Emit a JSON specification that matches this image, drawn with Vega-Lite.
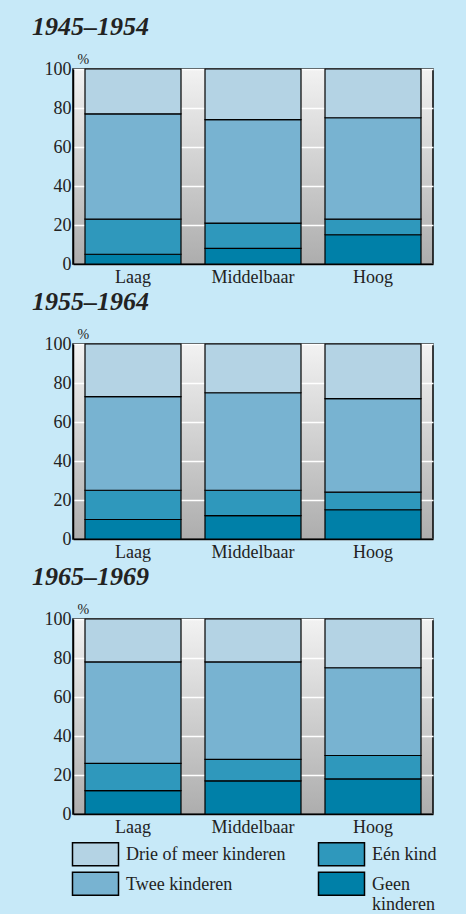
{
  "$schema": "https://vega.github.io/schema/vega-lite/v6.json",
  "background": "#c7e9f8",
  "padding": {"left": 31, "top": 13, "right": 31, "bottom": 4},
  "spacing": 1,
  "datasets": {
    "d": [
      {"periode": "1945–1954", "opleiding": "Laag", "type": "Geen kinderen", "k": 1, "pct": 5},
      {"periode": "1945–1954", "opleiding": "Laag", "type": "Eén kind", "k": 2, "pct": 18},
      {"periode": "1945–1954", "opleiding": "Laag", "type": "Twee kinderen", "k": 3, "pct": 54},
      {"periode": "1945–1954", "opleiding": "Laag", "type": "Drie of meer kinderen", "k": 4, "pct": 23},
      {"periode": "1945–1954", "opleiding": "Middelbaar", "type": "Geen kinderen", "k": 1, "pct": 8},
      {"periode": "1945–1954", "opleiding": "Middelbaar", "type": "Eén kind", "k": 2, "pct": 13},
      {"periode": "1945–1954", "opleiding": "Middelbaar", "type": "Twee kinderen", "k": 3, "pct": 53},
      {"periode": "1945–1954", "opleiding": "Middelbaar", "type": "Drie of meer kinderen", "k": 4, "pct": 26},
      {"periode": "1945–1954", "opleiding": "Hoog", "type": "Geen kinderen", "k": 1, "pct": 15},
      {"periode": "1945–1954", "opleiding": "Hoog", "type": "Eén kind", "k": 2, "pct": 8},
      {"periode": "1945–1954", "opleiding": "Hoog", "type": "Twee kinderen", "k": 3, "pct": 52},
      {"periode": "1945–1954", "opleiding": "Hoog", "type": "Drie of meer kinderen", "k": 4, "pct": 25},
      {"periode": "1955–1964", "opleiding": "Laag", "type": "Geen kinderen", "k": 1, "pct": 10},
      {"periode": "1955–1964", "opleiding": "Laag", "type": "Eén kind", "k": 2, "pct": 15},
      {"periode": "1955–1964", "opleiding": "Laag", "type": "Twee kinderen", "k": 3, "pct": 48},
      {"periode": "1955–1964", "opleiding": "Laag", "type": "Drie of meer kinderen", "k": 4, "pct": 27},
      {"periode": "1955–1964", "opleiding": "Middelbaar", "type": "Geen kinderen", "k": 1, "pct": 12},
      {"periode": "1955–1964", "opleiding": "Middelbaar", "type": "Eén kind", "k": 2, "pct": 13},
      {"periode": "1955–1964", "opleiding": "Middelbaar", "type": "Twee kinderen", "k": 3, "pct": 50},
      {"periode": "1955–1964", "opleiding": "Middelbaar", "type": "Drie of meer kinderen", "k": 4, "pct": 25},
      {"periode": "1955–1964", "opleiding": "Hoog", "type": "Geen kinderen", "k": 1, "pct": 15},
      {"periode": "1955–1964", "opleiding": "Hoog", "type": "Eén kind", "k": 2, "pct": 9},
      {"periode": "1955–1964", "opleiding": "Hoog", "type": "Twee kinderen", "k": 3, "pct": 48},
      {"periode": "1955–1964", "opleiding": "Hoog", "type": "Drie of meer kinderen", "k": 4, "pct": 28},
      {"periode": "1965–1969", "opleiding": "Laag", "type": "Geen kinderen", "k": 1, "pct": 12},
      {"periode": "1965–1969", "opleiding": "Laag", "type": "Eén kind", "k": 2, "pct": 14},
      {"periode": "1965–1969", "opleiding": "Laag", "type": "Twee kinderen", "k": 3, "pct": 52},
      {"periode": "1965–1969", "opleiding": "Laag", "type": "Drie of meer kinderen", "k": 4, "pct": 22},
      {"periode": "1965–1969", "opleiding": "Middelbaar", "type": "Geen kinderen", "k": 1, "pct": 17},
      {"periode": "1965–1969", "opleiding": "Middelbaar", "type": "Eén kind", "k": 2, "pct": 11},
      {"periode": "1965–1969", "opleiding": "Middelbaar", "type": "Twee kinderen", "k": 3, "pct": 50},
      {"periode": "1965–1969", "opleiding": "Middelbaar", "type": "Drie of meer kinderen", "k": 4, "pct": 22},
      {"periode": "1965–1969", "opleiding": "Hoog", "type": "Geen kinderen", "k": 1, "pct": 18},
      {"periode": "1965–1969", "opleiding": "Hoog", "type": "Eén kind", "k": 2, "pct": 12},
      {"periode": "1965–1969", "opleiding": "Hoog", "type": "Twee kinderen", "k": 3, "pct": 45},
      {"periode": "1965–1969", "opleiding": "Hoog", "type": "Drie of meer kinderen", "k": 4, "pct": 25}
    ]
  },
  "config": {
    "font": "Liberation Serif",
    "view": {
      "stroke": "black",
      "strokeWidth": 1.5,
      "fill": {"gradient": "linear", "x1": 0, "y1": 0, "x2": 0, "y2": 1, "stops": [{"offset": 0, "color": "#f2f2f2"}, {"offset": 1, "color": "#adadad"}]}
    },
    "title": {
      "font": "Liberation Serif",
      "fontSize": 26,
      "fontStyle": "italic",
      "fontWeight": "bold",
      "color": "#222222",
      "anchor": "start",
      "frame": "group",
      "dx": -41,
      "offset": 12
    },
    "axis": {
      "labelFont": "Liberation Serif",
      "labelFontSize": 18,
      "labelColor": "#222222",
      "ticks": false,
      "domainColor": "black",
      "domainWidth": 1.5
    },
    "legend": {
      "orient": "none",
      "legendX": 10,
      "legendY": 778,
      "columns": 2,
      "columnPadding": 29,
      "rowPadding": 0,
      "symbolType": "M-2,-1.5H2V0.5H-2Z",
      "symbolSize": 529,
      "symbolStrokeColor": "black",
      "symbolStrokeWidth": 1.5,
      "symbolOpacity": 1,
      "labelFont": "Liberation Serif",
      "labelFontSize": 18,
      "labelColor": "#222222",
      "labelOffset": 18,
      "labelLimit": 300,
      "labelBaseline": "alphabetic"
    }
  },
  "resolve": {"scale": {"color": "shared"}},
  "vconcat": [
    {
      "title": "1945–1954",
      "width": 360,
      "height": 195,
      "data": {"name": "d"},
      "transform": [{"filter": "datum.periode == '1945–1954'"}],
      "mark": {"type": "bar", "stroke": "black", "strokeWidth": 1.2, "opacity": 1},
      "encoding": {
        "x": {"field": "opleiding", "type": "nominal", "sort": ["Laag", "Middelbaar", "Hoog"], "scale": {"paddingInner": 0.2, "paddingOuter": 0.1}, "axis": {"title": null, "labelAngle": 0, "labelPadding": 4}},
        "y": {"field": "pct", "type": "quantitative", "stack": "zero", "scale": {"domain": [0, 100]}, "axis": {"values": [0, 20, 40, 60, 80, 100], "title": "%", "titleAngle": 0, "titleX": 4, "titleY": -3, "titleAlign": "left", "titleBaseline": "bottom", "titleFontSize": 14, "titleFontWeight": "normal", "titleColor": "#222222", "labelPadding": 2, "grid": true, "gridColor": "white", "gridWidth": 1.5}},
        "color": {"field": "type", "type": "nominal", "scale": {"domain": ["Drie of meer kinderen", "Twee kinderen", "Eén kind", "Geen kinderen"], "range": ["#b4d3e4", "#78b3d1", "#2f98bc", "#0080a8"]}, "legend": {"title": null, "labelExpr": "datum.label == 'Geen kinderen' ? ['Geen', 'kinderen'] : datum.label"}},
        "order": {"field": "k", "type": "quantitative"}
      }
    },
    {
      "title": "1955–1964",
      "width": 360,
      "height": 195,
      "data": {"name": "d"},
      "transform": [{"filter": "datum.periode == '1955–1964'"}],
      "mark": {"type": "bar", "stroke": "black", "strokeWidth": 1.2, "opacity": 1},
      "encoding": {
        "x": {"field": "opleiding", "type": "nominal", "sort": ["Laag", "Middelbaar", "Hoog"], "scale": {"paddingInner": 0.2, "paddingOuter": 0.1}, "axis": {"title": null, "labelAngle": 0, "labelPadding": 4}},
        "y": {"field": "pct", "type": "quantitative", "stack": "zero", "scale": {"domain": [0, 100]}, "axis": {"values": [0, 20, 40, 60, 80, 100], "title": "%", "titleAngle": 0, "titleX": 4, "titleY": -3, "titleAlign": "left", "titleBaseline": "bottom", "titleFontSize": 14, "titleFontWeight": "normal", "titleColor": "#222222", "labelPadding": 2, "grid": true, "gridColor": "white", "gridWidth": 1.5}},
        "color": {"field": "type", "type": "nominal", "scale": {"domain": ["Drie of meer kinderen", "Twee kinderen", "Eén kind", "Geen kinderen"], "range": ["#b4d3e4", "#78b3d1", "#2f98bc", "#0080a8"]}, "legend": {"title": null, "labelExpr": "datum.label == 'Geen kinderen' ? ['Geen', 'kinderen'] : datum.label"}},
        "order": {"field": "k", "type": "quantitative"}
      }
    },
    {
      "title": "1965–1969",
      "width": 360,
      "height": 195,
      "data": {"name": "d"},
      "transform": [{"filter": "datum.periode == '1965–1969'"}],
      "mark": {"type": "bar", "stroke": "black", "strokeWidth": 1.2, "opacity": 1},
      "encoding": {
        "x": {"field": "opleiding", "type": "nominal", "sort": ["Laag", "Middelbaar", "Hoog"], "scale": {"paddingInner": 0.2, "paddingOuter": 0.1}, "axis": {"title": null, "labelAngle": 0, "labelPadding": 4}},
        "y": {"field": "pct", "type": "quantitative", "stack": "zero", "scale": {"domain": [0, 100]}, "axis": {"values": [0, 20, 40, 60, 80, 100], "title": "%", "titleAngle": 0, "titleX": 4, "titleY": -3, "titleAlign": "left", "titleBaseline": "bottom", "titleFontSize": 14, "titleFontWeight": "normal", "titleColor": "#222222", "labelPadding": 2, "grid": true, "gridColor": "white", "gridWidth": 1.5}},
        "color": {"field": "type", "type": "nominal", "scale": {"domain": ["Drie of meer kinderen", "Twee kinderen", "Eén kind", "Geen kinderen"], "range": ["#b4d3e4", "#78b3d1", "#2f98bc", "#0080a8"]}, "legend": {"title": null, "labelExpr": "datum.label == 'Geen kinderen' ? ['Geen', 'kinderen'] : datum.label"}},
        "order": {"field": "k", "type": "quantitative"}
      }
    }
  ]
}
